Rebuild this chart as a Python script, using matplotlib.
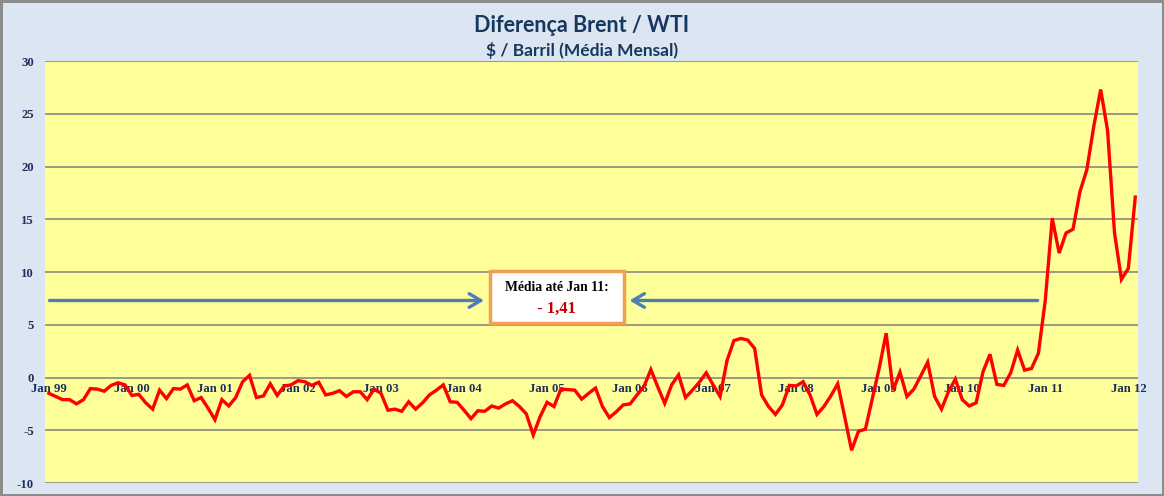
import matplotlib
matplotlib.use('Agg')
from matplotlib import pyplot as plt
from matplotlib.patches import Rectangle


# monthly Brent - WTI spread, Jan 1999 .. Feb 2012 ($/barrel)
spread = [
    -1.5, -1.8, -2.1, -2.1, -2.5, -2.1, -1.05, -1.1, -1.3, -0.75, -0.5, -0.7,
    -1.7, -1.6, -2.4, -3.0, -1.2, -2.0, -1.05, -1.1, -0.7, -2.2, -1.9, -2.9,
    -4.0, -2.1, -2.7, -1.9, -0.4, 0.2, -1.9, -1.75, -0.6, -1.7, -0.8, -0.7,
    -0.3, -0.4, -0.75, -0.45, -1.65, -1.5, -1.25, -1.8, -1.35, -1.35, -2.1, -1.1,
    -1.5, -3.1, -3.0, -3.2, -2.3, -3.0, -2.4, -1.65, -1.2, -0.7, -2.3, -2.35,
    -3.1, -3.9, -3.15, -3.2, -2.7, -2.9, -2.5, -2.2, -2.75, -3.45, -5.45, -3.7,
    -2.35, -2.75, -1.1, -1.15, -1.2, -2.05, -1.5, -1.0, -2.75, -3.8, -3.25, -2.6,
    -2.5, -1.65, -0.85, 0.75, -0.9, -2.45, -0.7, 0.25, -1.9, -1.2, -0.45, 0.45,
    -0.7, -1.8, 1.6, 3.5, 3.7, 3.55, 2.75, -1.65, -2.75, -3.5, -2.6, -0.75,
    -0.8, -0.4, -1.65, -3.5, -2.75, -1.75, -0.6, -3.7, -6.9, -5.1, -4.9, -2.0,
    0.9, 4.2, -1.2, 0.5, -1.8, -1.1, 0.15, 1.45, -1.8, -3.0, -1.35, -0.15,
    -2.1, -2.7, -2.4, 0.55, 2.2, -0.65, -0.75, 0.45, 2.6, 0.7, 0.85, 2.3,
    7.35, 15.1, 11.8, 13.7, 14.05, 17.6, 19.7, 23.8, 27.3, 23.4, 13.7, 9.3,
    10.35, 17.1,
]
months = list(range(len(spread)))
year_labels = ['Jan 99', 'Jan 00', 'Jan 01', 'Jan 02', 'Jan 03', 'Jan 04',
               'Jan 05', 'Jan 06', 'Jan 07', 'Jan 08', 'Jan 09', 'Jan 10',
               'Jan 11', 'Jan 12']
year_ticks = [12 * i for i in range(len(year_labels))]
y_ticks = [-10, -5, 0, 5, 10, 15, 20, 25, 30]

avg_label = 'Média até Jan 11:'
avg_value = '- 1,41'

navy = '#1F2F5C'
serif = ['Liberation Serif', 'DejaVu Serif']
sans = ['Lato', 'DejaVu Sans']

fig = plt.figure(figsize=(11.64, 4.96), dpi=100)
fig.patch.set_facecolor('#DCE6F2')
fig.patch.set_edgecolor('#8C8C8C')
fig.patch.set_linewidth(2.5)
ax = fig.add_axes([0.0387, 0.0262, 0.9390, 0.8508])
ax.set_facecolor('#FFFF99')

ax.plot(months, spread, color='#FF0000', linewidth=2.4, zorder=3,
        solid_joinstyle='miter')

# decorative arrows pointing at the average box
ax.annotate('', xy=(63.3, 7.3), xytext=(-0.3, 7.3),
            arrowprops=dict(arrowstyle='->,head_length=0.6,head_width=0.35',
                            color='#4F7DB5', lw=2.4, mutation_scale=14),
            zorder=2)
ax.annotate('', xy=(83.5, 7.3), xytext=(143.3, 7.3),
            arrowprops=dict(arrowstyle='->,head_length=0.6,head_width=0.35',
                            color='#4F7DB5', lw=2.4, mutation_scale=14),
            zorder=2)
ax.add_patch(Rectangle((63.7, 5.15), 19.4, 4.9, facecolor='white',
                       edgecolor='#F0A050', linewidth=2.5, zorder=4))
ax.text(73.4, 8.55, avg_label, ha='center', va='center', fontsize=9.8,
        fontweight='bold', family=serif, color='black', zorder=5)
ax.text(73.4, 6.55, avg_value, ha='center', va='center', fontsize=12,
        fontweight='bold', family=serif, color='#C00000', zorder=5)

ax.set_xlim(-0.55, 157.4)
ax.set_ylim(-10, 30)
ax.set_yticks(y_ticks)
ax.set_yticklabels([str(v) for v in y_ticks])
ax.set_xticks(year_ticks)
ax.set_xticklabels(year_labels)
ax.grid(axis='y', color='#808080', linewidth=1.1)
ax.set_axisbelow(True)
for side in ['top', 'right', 'left', 'bottom']:
    ax.spines[side].set_visible(False)
ax.spines['bottom'].set_position(('data', 0))
ax.tick_params(axis='both', length=0, colors=navy)
ax.tick_params(axis='y', pad=8)
ax.tick_params(axis='x', pad=4)
for lab in ax.get_xticklabels() + ax.get_yticklabels():
    lab.set_family(serif)
    lab.set_fontweight('bold')
    lab.set_fontsize(9.2)
    lab.set_zorder(6)

fig.text(0.4997, 0.948, 'Diferença Brent / WTI', ha='center', va='center',
         fontsize=15.5, fontweight='bold', family=sans, color='#17375E')
fig.text(0.4997, 0.899, '$ / Barril (Média Mensal)', ha='center', va='center',
         fontsize=12.5, fontweight='bold', family=sans, color='#17375E')

fig.savefig('out.png', dpi=100, facecolor=fig.get_facecolor(),
            edgecolor=fig.get_edgecolor())
